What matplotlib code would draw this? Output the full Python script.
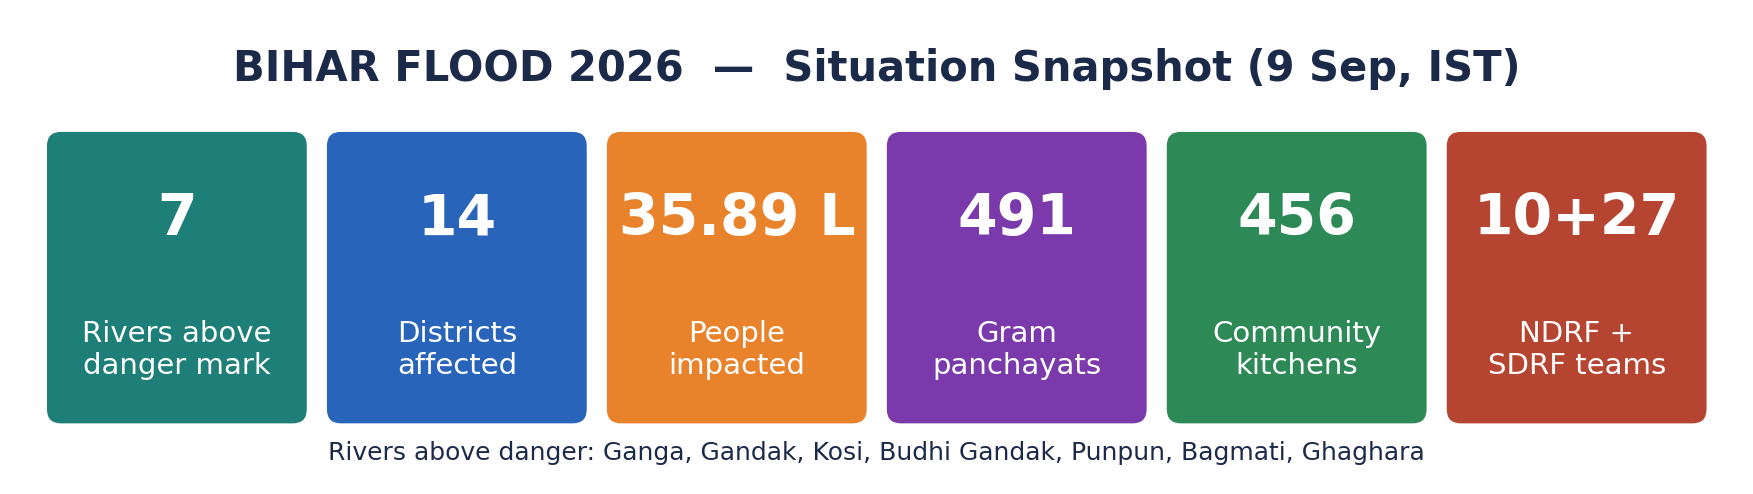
import matplotlib
matplotlib.use("Agg")
import matplotlib.pyplot as plt
from matplotlib.patches import FancyBboxPatch

values = ["7", "14", "35.89 L", "491", "456", "10+27"]
labels = ["Rivers above\ndanger mark", "Districts\naffected", "People\nimpacted",
          "Gram\npanchayats", "Community\nkitchens", "NDRF +\nSDRF teams"]
colors = ["#1e7f78", "#2764ba", "#e8832c", "#7b3aac", "#2d8a57", "#b54430"]
title = "BIHAR FLOOD 2026  —  Situation Snapshot (9 Sep, IST)"
footer = "Rivers above danger: Ganga, Gandak, Kosi, Budhi Gandak, Punpun, Bagmati, Ghaghara"

fig = plt.figure(figsize=(17.53, 4.94), dpi=100)
ax = fig.add_axes([0, 0, 1, 1])
ax.set_xlim(0, 1); ax.set_ylim(0, 1); ax.axis("off")
W, H = 1753, 494
left, w, step = 0.0268, 0.1482, 0.1597
bot, top = 0.143, 0.733
r = 0.008
for i, (v, l, c) in enumerate(zip(values, labels, colors)):
    x = left + i * step
    ax.add_patch(FancyBboxPatch((x, bot), w, top - bot,
                 boxstyle=f"round,pad=0,rounding_size={r}", mutation_aspect=W / H,
                 fc=c, ec="none"))
    ax.text(x + w / 2, 0.555, v, ha="center", va="center", color="white",
            fontsize=41, fontweight="bold")
    ax.text(x + w / 2, 0.292, l, ha="center", va="center", color="white",
            fontsize=21, linespacing=1.2)
ax.text(0.5, 0.86, title, ha="center", va="center", color="#1c2a4a",
        fontsize=30, fontweight="bold")
ax.text(0.5, 0.083, footer, ha="center", va="center", color="#1c2a4a", fontsize=18)
fig.savefig("out.png", dpi=100, facecolor="white")
